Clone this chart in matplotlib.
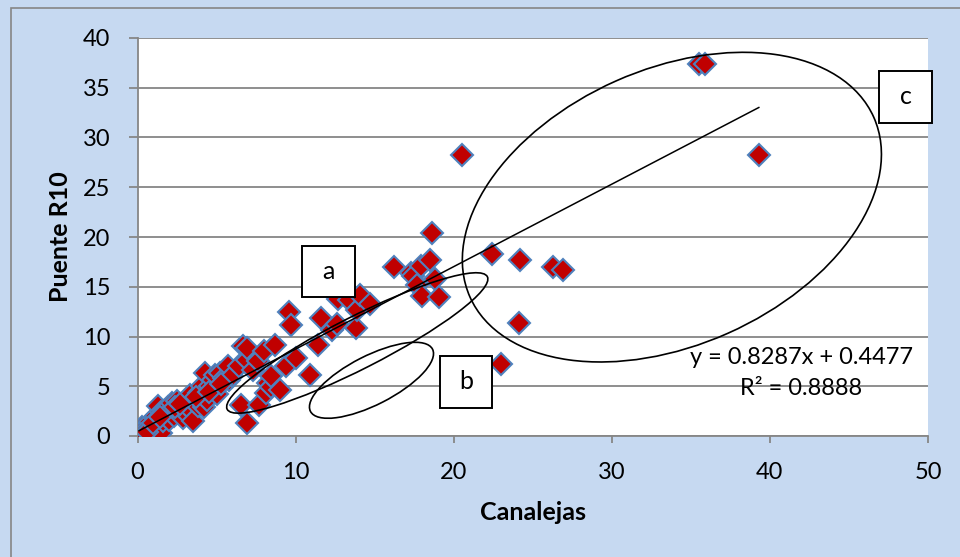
import matplotlib
matplotlib.use("Agg")
import matplotlib.pyplot as plt
import numpy as np
from matplotlib.patches import Ellipse, Rectangle
from matplotlib.transforms import IdentityTransform

plt.rcParams['font.family'] = ['Lato', 'DejaVu Sans']

# data
canalejas = [0.1, 0.2, 0.3, 0.4, 0.5, 0.6, 0.7, 0.8, 0.9, 1.0, 1.1, 1.2, 1.3, 1.3,
             1.5, 1.5, 1.6, 1.7, 1.8, 1.9, 2.0, 2.1, 2.2, 2.3, 2.5, 2.6, 2.8, 2.9,
             3.0, 3.1, 3.2, 3.3, 3.4, 3.5, 3.6, 3.8, 3.9, 4.0, 4.1, 4.2, 4.3, 4.4,
             4.6, 4.8, 4.9, 5.0, 5.2, 5.5, 5.7, 5.8, 6.0,
             0.3, 0.6, 1.0, 1.4, 2.4, 2.7, 3.7, 4.5, 5.3,
             6.45, 6.55, 6.7, 6.9, 6.9, 6.95, 7.3, 7.6, 7.7, 8.0, 8.15, 8.25, 8.45,
             8.45, 8.7, 9.0, 9.4, 9.6, 9.7, 10.0, 10.9, 11.4, 11.6, 12.3, 12.6,
             12.7, 13.4, 13.85, 13.9, 14.05, 14.7,
             16.2, 17.3, 17.4, 17.7, 17.95, 18.0, 18.5, 18.65, 18.8, 19.1, 20.5,
             22.4, 23.0, 24.1, 24.2, 26.3, 26.9, 35.5, 35.9, 39.3]
puente_r10 = [0.3, 0.6, 0.9, 0.4, 0.7, 1.0, 0.5, 1.4, 1.1, 0.6, 1.8, 2.0, 1.2, 3.0,
              0.3, 2.4, 1.5, 2.5, 2.0, 2.9, 1.6, 2.6, 3.3, 2.0, 3.5, 2.4, 2.8, 1.8,
              3.0, 2.2, 3.8, 4.1, 2.6, 1.5, 3.4, 3.0, 4.3, 4.5, 5.0, 2.9, 6.3, 3.6,
              5.0, 5.6, 6.1, 4.2, 6.3, 5.8, 7.0, 5.6, 6.0,
              0.2, 0.4, 1.3, 1.9, 2.9, 3.2, 3.9, 4.4, 5.2,
              7.0, 3.1, 9.0, 7.6, 8.8, 1.35, 6.6, 7.5, 3.1, 8.5, 4.3, 5.3, 4.95,
              6.0, 9.15, 4.6, 7.0, 12.5, 11.2, 7.8, 6.1, 9.1, 11.9, 10.65, 11.3,
              13.8, 13.7, 10.9, 12.7, 14.2, 13.3,
              17.0, 16.35, 16.1, 15.2, 17.1, 14.1, 17.7, 20.4, 15.8, 14.0, 28.2,
              18.3, 7.2, 11.4, 17.7, 17.0, 16.7, 37.4, 37.4, 28.2]

slope = 0.8287
intercept = 0.4477
r2 = 0.8888

x_ticks = [0, 10, 20, 30, 40, 50]
y_ticks = [0, 5, 10, 15, 20, 25, 30, 35, 40]

W, H = 960, 557
bg = '#c6d9f1'
gray = '#868686'

fig = plt.figure(figsize=(W / 100, H / 100), dpi=100, facecolor=bg)
ax = fig.add_axes([137.5 / W, (H - 436) / H, 790.5 / W, 398 / H])
ax.set_facecolor('white')

# outer chart border
fig.add_artist(Rectangle((11 / W, -0.1), 1.2, (H - 8) / H + 0.1,
                         transform=fig.transFigure, fill=False,
                         edgecolor=gray, lw=1.2))

ax.set_xlim(0, 50)
ax.set_ylim(0, 40)
ax.set_xticks(x_ticks)
ax.set_yticks(y_ticks)
ax.yaxis.grid(True, color=gray, lw=1.3)
ax.set_axisbelow(True)
for s in ['top', 'right']:
    ax.spines[s].set_visible(False)
for s in ['left', 'bottom']:
    ax.spines[s].set_color(gray)
    ax.spines[s].set_linewidth(1.3)
ax.tick_params(axis='y', length=6.5, width=1.3, color=gray, pad=13, labelsize=17)
ax.tick_params(axis='x', length=5, width=1.3, color=gray, pad=14, labelsize=17)

ax.set_xlabel('Canalejas', fontsize=18, fontweight='bold')
ax.set_ylabel('Puente R10', fontsize=18, fontweight='bold')
ax.xaxis.set_label_coords(0.5, -0.193)
ax.xaxis.label.set_va('center')
ax.yaxis.set_label_coords((61 - 137.5) / 790.5, (436 - 237) / 398)
ax.yaxis.label.set_va('center')

ax.plot(canalejas, puente_r10, 'D', ms=11.5, mfc='#c00000', mec='#4f81bd',
        mew=1.5, zorder=3)

xt = np.array([min(canalejas), max(canalejas)])
ax.plot(xt, slope * xt + intercept, color='black', lw=1.1, zorder=4)

ax.text(42.0, 7.9, f'y = {slope}x + {intercept}', ha='center', va='center',
        fontsize=17, zorder=5)
ax.text(42.0, 4.8, f'R² = {r2}', ha='center', va='center', fontsize=17, zorder=5)

# ellipses: centre in data units, size in pixels
fig.canvas.draw()
def oval(cx, cy, w, h, ang):
    px, py = ax.transData.transform((cx, cy))
    e = Ellipse((px, py), w, h, angle=ang, transform=IdentityTransform(),
                fill=False, edgecolor='black', lw=1.2, zorder=6)
    fig.add_artist(e)

oval(13.9, 9.35, 292, 52, 27)
oval(14.8, 5.6, 137, 49, 27)
oval(33.8, 23.0, 442, 276, 24)

# labelled boxes
boxes = [('a', 10.42, 13.97, 3.31, 5.08),
         ('b', 19.11, 2.84, 3.34, 5.20),
         ('c', 46.9, 31.5, 3.35, 5.2)]
for lab, bx, by, bw, bh in boxes:
    ax.add_patch(Rectangle((bx, by), bw, bh, facecolor='white', edgecolor='black',
                           lw=1.4, clip_on=False, zorder=7))
    ax.text(bx + bw / 2, by + bh / 2, lab, ha='center', va='center',
            fontsize=18, zorder=8, clip_on=False)

fig.savefig('out.png', dpi=100, facecolor=bg)
